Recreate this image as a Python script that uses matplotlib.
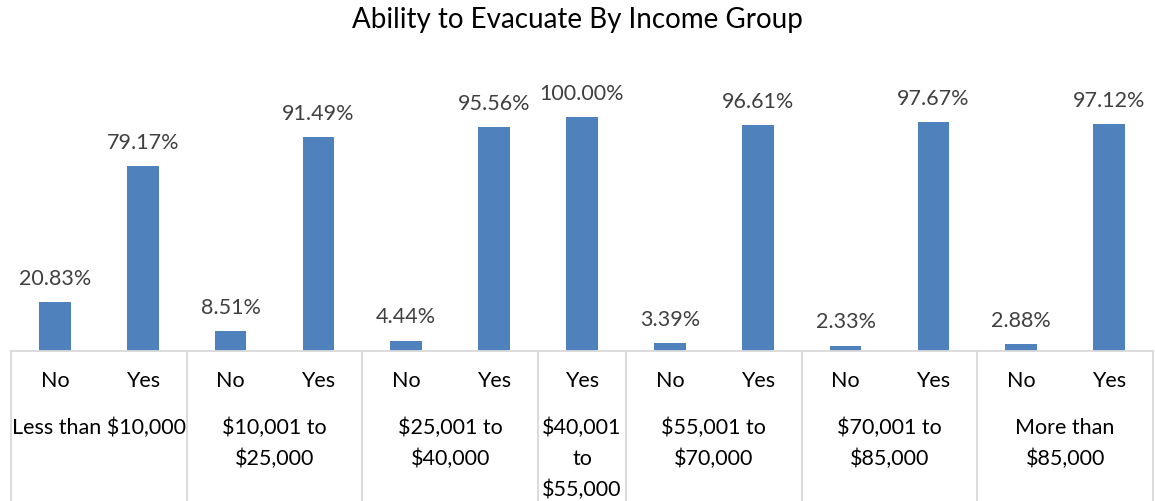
import numpy as np
import matplotlib
matplotlib.use("Agg")
from matplotlib import pyplot as plt
from matplotlib.transforms import blended_transform_factory
from matplotlib.lines import Line2D

plt.rcParams['font.family'] = ['Lato', 'DejaVu Sans']

# chart data
groups = ["Less than $10,000", "$10,001 to\n$25,000", "$25,001 to\n$40,000",
          "$40,001\nto\n$55,000", "$55,001 to\n$70,000", "$70,001 to\n$85,000",
          "More than\n$85,000"]
answers = [["No", "Yes"], ["No", "Yes"], ["No", "Yes"], ["Yes"],
           ["No", "Yes"], ["No", "Yes"], ["No", "Yes"]]
percents = [[20.83, 79.17], [8.51, 91.49], [4.44, 95.56], [100.00],
            [3.39, 96.61], [2.33, 97.67], [2.88, 97.12]]

bar_labels = [a for grp in answers for a in grp]
bar_values = [v for grp in percents for v in grp]
n_bars = len(bar_values)

W, H = 1155, 501
fig = plt.figure(figsize=(W / 100, H / 100), dpi=100)

# plot area in pixels
left, right, base = 11, 1153, 351
ymax = 1.2
px_per_unit = 234
top = base - ymax * px_per_unit
ax = fig.add_axes([left / W, 1 - base / H, (right - left) / W, (base - top) / H])

x = np.arange(n_bars)
vals = np.array(bar_values) / 100
ax.bar(x, vals, width=0.36, color='#4F81BD')
for xi, v in zip(x, bar_values):
    ax.annotate(f"{v:.2f}%", (xi, v / 100), xytext=(0, 9.5), textcoords='offset points',
                ha='center', va='bottom', fontsize=15.5, color='#404040')

ax.set_xlim(-0.5, n_bars - 0.5)
ax.set_ylim(0, ymax)
ax.set_xticks([])
ax.set_yticks([])
for side in ['top', 'left', 'right']:
    ax.spines[side].set_visible(False)
ax.spines['bottom'].set_color('#d9d9d9')
ax.spines['bottom'].set_linewidth(1.3)

# multi-level category axis
trans = blended_transform_factory(ax.transData, fig.transFigure)
for xi, lab in zip(x, bar_labels):
    ax.text(xi, 1 - 381 / H, lab, transform=trans, ha='center', va='center',
            fontsize=15.5, color='black')

sep_color = '#d9d9d9'
pos = 0
bounds = [-0.5]
for grp, ans in zip(groups, answers):
    center = pos + (len(ans) - 1) / 2
    ax.text(center, 1 - 418 / H, grp, transform=trans, ha='center', va='top',
            fontsize=15.5, color='black', linespacing=1.65)
    pos += len(ans)
    bounds.append(pos - 0.5)

for b in bounds:
    fig.add_artist(Line2D([b, b], [1 - base / H, 0], transform=trans,
                          color=sep_color, linewidth=1.3, clip_on=False))

fig.suptitle("Ability to Evacuate By Income Group", y=1 - 20 / H, va='center',
             fontsize=20, color='black')

fig.savefig("out.png", dpi=100)
